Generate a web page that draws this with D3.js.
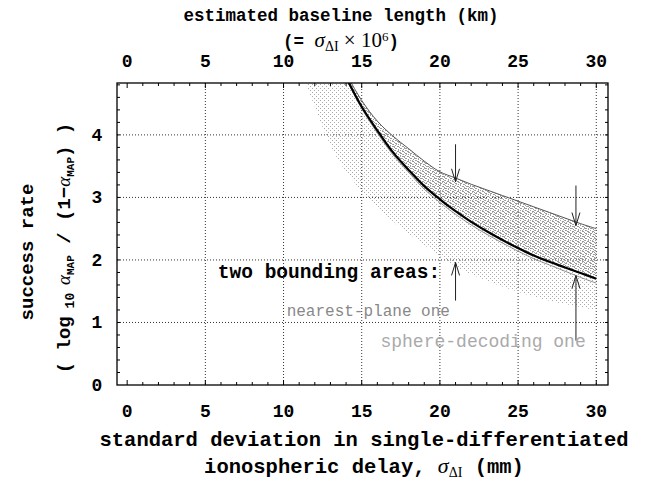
<!DOCTYPE html>
<html>
<head>
<meta charset="utf-8">
<script src="https://cdn.jsdelivr.net/npm/d3@7"></script>
<style>
  body { margin: 0; background: #fff; }
  text { font-family: "Liberation Mono", "DejaVu Sans Mono", monospace; }
</style>
</head>
<body>
<svg id="chart" width="650" height="482"></svg>
<script>
// values
const xTicks = [0, 5, 10, 15, 20, 25, 30];
const yTicks = [0, 1, 2, 3, 4];

const sigma      = [14, 15, 16, 17, 18, 19, 20, 21, 22, 23, 24, 25, 26, 27, 28, 29, 30];
const mainBound  = [4.92, 4.45, 4.07, 3.72, 3.44, 3.18, 2.97, 2.78, 2.61, 2.46, 2.32, 2.19, 2.07, 1.97, 1.88, 1.79, 1.70];
const upperBound = [4.98, 4.55, 4.22, 3.98, 3.78, 3.58, 3.41, 3.31, 3.21, 3.12, 3.03, 2.94, 2.85, 2.76, 2.67, 2.58, 2.50];
const lowerThin  = [4.90, 4.42, 4.03, 3.68, 3.40, 3.13, 2.92, 2.73, 2.56, 2.41, 2.27, 2.14, 2.02, 1.92, 1.82, 1.72, 1.63];

const sphereX   = [11.3, 12, 12.7, 13.5, 14.5, 15.5, 16.5, 17.5, 18.5, 19.5, 20.5, 21.5, 22.5, 23.5, 24.5, 25.5, 26.5, 27.5, 28.5, 29.5, 30];
const sphereLow = [4.9, 4.45, 4.0, 3.6, 3.25, 2.95, 2.72, 2.52, 2.33, 2.15, 1.98, 1.83, 1.72, 1.62, 1.53, 1.45, 1.38, 1.32, 1.27, 1.22, 1.20];

const arrowX    = [21, 21, 28.7, 28.7];
const arrowFrom = [3.85, 1.35, 3.19, 0.71];
const arrowTo   = [3.25, 1.96, 2.55, 1.75];

const svg = d3.select("#chart");
const W = {left: 117, right: 608, top: 83, bottom: 385};

const x = d3.scaleLinear().domain([-0.65, 30.75]).range([W.left, W.right]);
const y = d3.scaleLinear().domain([0, 4.83]).range([W.bottom, W.top]);

// stipple patterns
const defs = svg.append("defs");
const light = defs.append("pattern").attr("id", "lightDots")
  .attr("width", 4).attr("height", 4).attr("patternUnits", "userSpaceOnUse");
[[0, 0], [2, 2]].forEach(([a, b]) =>
  light.append("rect").attr("x", a).attr("y", b).attr("width", 1).attr("height", 1).attr("fill", "#aaa"));
const dark = defs.append("pattern").attr("id", "darkDots")
  .attr("width", 5).attr("height", 5).attr("patternUnits", "userSpaceOnUse");
[[0, 0], [2, 1], [4, 2], [1, 3], [3, 4], [3, 1], [0, 3]].forEach(([a, b]) =>
  dark.append("rect").attr("x", a).attr("y", b).attr("width", 1).attr("height", 1).attr("fill", "#999"));

defs.append("clipPath").attr("id", "plotClip").append("rect")
  .attr("x", W.left).attr("y", W.top).attr("width", W.right - W.left).attr("height", W.bottom - W.top);

// grid
const grid = svg.append("g").attr("stroke", "#333").attr("stroke-width", 1).attr("stroke-dasharray", "1,2");
grid.selectAll(".vg").data(xTicks.slice(1)).enter().append("line")
  .attr("x1", d => x(d)).attr("x2", d => x(d)).attr("y1", W.top).attr("y2", W.bottom);
grid.selectAll(".hg").data(yTicks.slice(1)).enter().append("line")
  .attr("y1", d => y(d)).attr("y2", d => y(d)).attr("x1", W.left).attr("x2", W.right);

// areas
const plot = svg.append("g").attr("clip-path", "url(#plotClip)");
const pts = (xs, ys) => xs.map((v, i) => [x(v), y(ys[i])]);
const smooth = d3.line().curve(d3.curveCatmullRom);

const lowPts = pts(sphereX, sphereLow);
const upPts = pts(sigma, upperBound).reverse();
plot.append("path")
  .attr("d", smooth(lowPts) + "L" + smooth(upPts).slice(1) + "Z")
  .attr("fill", "url(#lightDots)");

const band = d3.area()
  .x((d, i) => x(sigma[i]))
  .y0(d => y(d[0])).y1(d => y(d[1]))
  .curve(d3.curveCatmullRom);
plot.append("path")
  .datum(mainBound.map((v, i) => [v, upperBound[i]]))
  .attr("d", band)
  .attr("fill", "url(#darkDots)");

const curve = d3.line().x((d, i) => x(sigma[i])).y(d => y(d)).curve(d3.curveCatmullRom);
plot.append("path").datum(upperBound).attr("d", curve)
  .attr("fill", "none").attr("stroke", "#555").attr("stroke-width", 1);
plot.append("path").datum(lowerThin).attr("d", curve)
  .attr("fill", "none").attr("stroke", "#777").attr("stroke-width", 0.8);
plot.append("path").datum(mainBound).attr("d", curve)
  .attr("fill", "none").attr("stroke", "#000").attr("stroke-width", 2.2);

// arrows
const arrows = svg.append("g").attr("stroke", "#222").attr("stroke-width", 1).attr("fill", "none");
arrowX.forEach((ax, i) => {
  const px = x(ax), y0 = y(arrowFrom[i]), y1 = y(arrowTo[i]);
  const dir = y1 > y0 ? -1 : 1;
  arrows.append("line").attr("x1", px).attr("x2", px).attr("y1", y0).attr("y2", y1);
  arrows.append("path")
    .attr("d", `M${px - 4},${y1 + dir * 13}L${px},${y1}L${px + 4},${y1 + dir * 13}`);
});

// frame with inward ticks
svg.append("rect").attr("x", W.left).attr("y", W.top)
  .attr("width", W.right - W.left).attr("height", W.bottom - W.top)
  .attr("fill", "none").attr("stroke", "#000").attr("stroke-width", 1.3);

const minorX = d3.range(0, 31, 1);
const minorY = d3.range(0.2, 4.81, 0.2);
const tk = svg.append("g").attr("stroke", "#000").attr("stroke-width", 1);
minorX.forEach(v => {
  const len = v % 5 === 0 ? 5 : 3;
  tk.append("line").attr("x1", x(v)).attr("x2", x(v)).attr("y1", W.bottom).attr("y2", W.bottom - len);
  tk.append("line").attr("x1", x(v)).attr("x2", x(v)).attr("y1", W.top).attr("y2", W.top + len);
});
minorY.forEach(v => {
  tk.append("line").attr("y1", y(v)).attr("y2", y(v)).attr("x1", W.left).attr("x2", W.left + 3);
  tk.append("line").attr("y1", y(v)).attr("y2", y(v)).attr("x1", W.right).attr("x2", W.right - 3);
});

// tick labels
const lbl = svg.append("g").attr("font-weight", "bold").attr("font-size", 18).attr("fill", "#000");
lbl.selectAll(".bx").data(xTicks).enter().append("text")
  .attr("x", d => x(d)).attr("y", 417).attr("text-anchor", "middle").text(d => d);
lbl.selectAll(".tx").data(xTicks).enter().append("text")
  .attr("x", d => x(d)).attr("y", 67).attr("text-anchor", "middle").text(d => d);
lbl.selectAll(".ly").data(yTicks).enter().append("text")
  .attr("x", 97).attr("y", d => y(d) + 6).attr("text-anchor", "middle").text(d => d);

// axis titles
const serif = s => s.attr("font-family", "Liberation Serif").attr("font-weight", "normal");
const t = svg.append("g").attr("font-weight", "bold").attr("font-size", 17.5).attr("fill", "#000");
t.append("text").attr("x", 341).attr("y", 21).attr("text-anchor", "middle").text("estimated baseline length (km)");
const t2 = t.append("text").attr("x", 341).attr("y", 47).attr("text-anchor", "middle");
t2.append("tspan").text("(= ");
serif(t2.append("tspan")).attr("font-size", 21).attr("font-style", "italic").text("σ");
serif(t2.append("tspan")).attr("font-size", 14).attr("dy", 4).text("ΔI");
serif(t2.append("tspan")).attr("font-size", 21).attr("dy", -4).text(" × 10");
serif(t2.append("tspan")).attr("font-size", 13).attr("dy", -6).text("6");
t2.append("tspan").attr("dy", 6).text(")");

const tb = svg.append("g").attr("font-weight", "bold").attr("font-size", 20.5).attr("fill", "#000");
tb.append("text").attr("x", 364).attr("y", 446).attr("text-anchor", "middle")
  .text("standard deviation in single-differentiated");
const b2 = tb.append("text").attr("x", 364).attr("y", 473).attr("text-anchor", "middle");
b2.append("tspan").text("ionospheric delay, ");
serif(b2.append("tspan")).attr("font-size", 22).attr("font-style", "italic").text("σ");
serif(b2.append("tspan")).attr("font-size", 14).attr("dy", 4).text("ΔI");
b2.append("tspan").attr("dy", -4).text(" (mm)");

const tl = svg.append("g").attr("font-weight", "bold").attr("font-size", 19).attr("fill", "#000");
tl.append("text").attr("transform", "translate(33,252) rotate(-90)").attr("text-anchor", "middle").text("success rate");
const yl = tl.append("text").attr("transform", "translate(70,248) rotate(-90)").attr("text-anchor", "middle");
yl.append("tspan").text("( log");
yl.append("tspan").attr("font-size", 13).attr("dy", 4).text(" 10 ");
serif(yl.append("tspan")).attr("font-style", "italic").attr("dy", -4).text("α");
yl.append("tspan").attr("font-size", 11).attr("dy", 4).text("MAP");
yl.append("tspan").attr("dy", -4).text(" / (1\u2212");
serif(yl.append("tspan")).attr("font-style", "italic").text("α");
yl.append("tspan").attr("font-size", 11).attr("dy", 4).text("MAP");
yl.append("tspan").attr("dy", -4).text(") )");

// annotations
svg.append("text").attr("x", x(5.8)).attr("y", y(1.8) + 6)
  .attr("font-weight", "bold").attr("font-size", 19.5).text("two bounding areas:");
svg.append("text").attr("x", x(10.2)).attr("y", y(1.2) + 6)
  .attr("font-size", 16).attr("fill", "#888").text("nearest-plane one");
svg.append("text").attr("x", x(16.2)).attr("y", y(0.71) + 6)
  .attr("font-size", 18).attr("fill", "#aaa").text("sphere-decoding one");
</script>
</body>
</html>
